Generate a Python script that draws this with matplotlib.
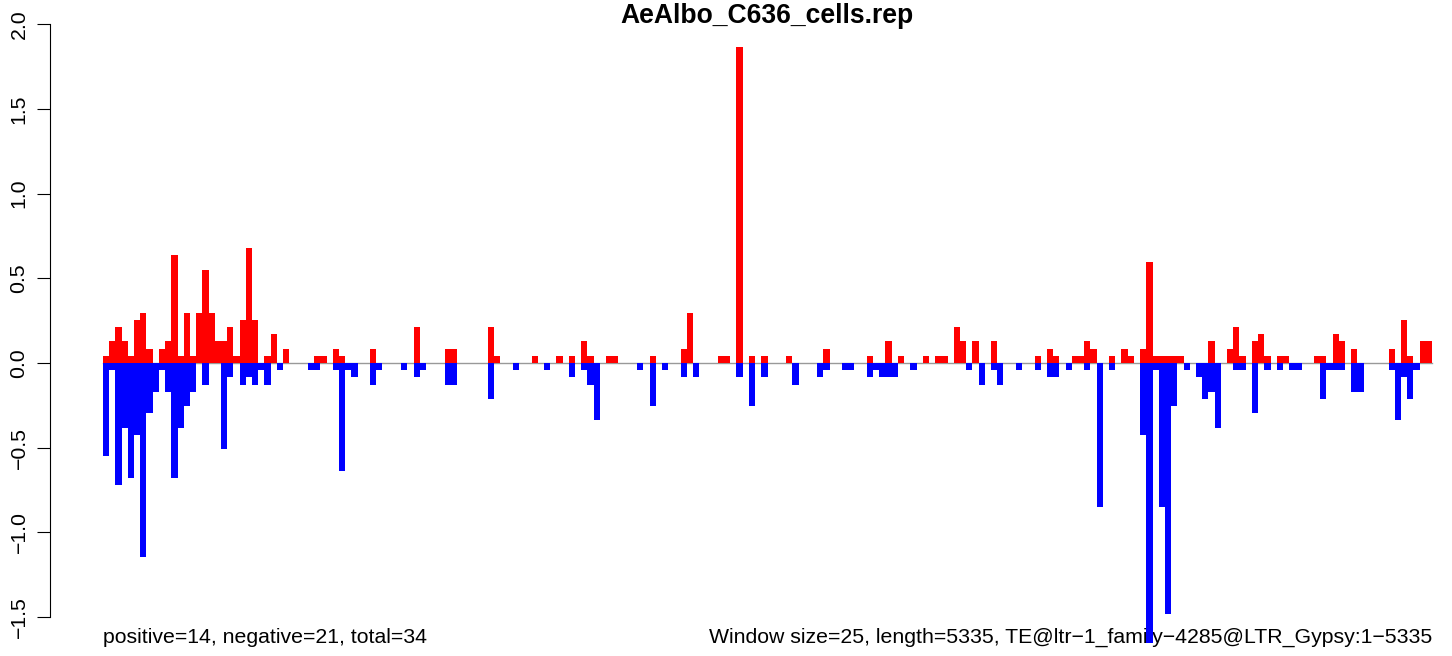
import matplotlib
matplotlib.use("Agg")
import matplotlib.pyplot as plt
import numpy as np

title = "AeAlbo_C636_cells.rep"
left_note = "positive=14, negative=21, total=34"
right_note = "Window size=25, length=5335, TE@ltr\u22121_family\u22124285@LTR_Gypsy:1\u22125335"

# one value per 25-bp window (214 windows)
positive = [
    0.042, 0.127, 0.212, 0.127, 0.042, 0.254, 0.297, 0.085, 0.0, 0.085,
    0.127, 0.636, 0.042, 0.297, 0.042, 0.297, 0.551, 0.297, 0.127, 0.127,
    0.212, 0.042, 0.254, 0.679, 0.254, 0.0, 0.042, 0.170, 0.0, 0.085,
    0.0, 0.0, 0.0, 0.0, 0.042, 0.042, 0.0, 0.085, 0.042, 0.0,
    0.0, 0.0, 0.0, 0.085, 0.0, 0.0, 0.0, 0.0, 0.0, 0.0,
    0.212, 0.0, 0.0, 0.0, 0.0, 0.085, 0.085, 0.0, 0.0, 0.0,
    0.0, 0.0, 0.212, 0.042, 0.0, 0.0, 0.0, 0.0, 0.0, 0.042,
    0.0, 0.0, 0.0, 0.042, 0.0, 0.042, 0.0, 0.127, 0.042, 0.0,
    0.0, 0.042, 0.042, 0.0, 0.0, 0.0, 0.0, 0.0, 0.042, 0.0,
    0.0, 0.0, 0.0, 0.085, 0.297, 0.0, 0.0, 0.0, 0.0, 0.042,
    0.042, 0.0, 1.866, 0.0, 0.042, 0.0, 0.042, 0.0, 0.0, 0.0,
    0.042, 0.0, 0.0, 0.0, 0.0, 0.0, 0.085, 0.0, 0.0, 0.0,
    0.0, 0.0, 0.0, 0.042, 0.0, 0.0, 0.127, 0.0, 0.042, 0.0,
    0.0, 0.0, 0.042, 0.0, 0.042, 0.042, 0.0, 0.212, 0.127, 0.0,
    0.127, 0.0, 0.0, 0.127, 0.0, 0.0, 0.0, 0.0, 0.0, 0.0,
    0.042, 0.0, 0.085, 0.042, 0.0, 0.0, 0.042, 0.042, 0.127, 0.085,
    0.0, 0.0, 0.042, 0.0, 0.085, 0.042, 0.0, 0.085, 0.594, 0.042,
    0.042, 0.042, 0.042, 0.042, 0.0, 0.0, 0.0, 0.0, 0.127, 0.0,
    0.0, 0.085, 0.212, 0.042, 0.0, 0.127, 0.170, 0.042, 0.0, 0.042,
    0.042, 0.0, 0.0, 0.0, 0.0, 0.042, 0.042, 0.0, 0.170, 0.127,
    0.0, 0.085, 0.0, 0.0, 0.0, 0.0, 0.0, 0.085, 0.0, 0.254,
    0.042, 0.0, 0.127, 0.127,
]

negative = [
    -0.551, -0.042, -0.721, -0.382, -0.679, -0.424, -1.145, -0.297, -0.170, -0.042,
    -0.170, -0.679, -0.382, -0.254, -0.170, 0.0, -0.127, 0.0, 0.0, -0.509,
    -0.085, 0.0, -0.127, -0.085, -0.127, -0.042, -0.127, 0.0, -0.042, 0.0,
    0.0, 0.0, 0.0, -0.042, -0.042, 0.0, 0.0, -0.042, -0.636, -0.042,
    -0.085, 0.0, 0.0, -0.127, -0.042, 0.0, 0.0, 0.0, -0.042, 0.0,
    -0.085, -0.042, 0.0, 0.0, 0.0, -0.127, -0.127, 0.0, 0.0, 0.0,
    0.0, 0.0, -0.212, 0.0, 0.0, 0.0, -0.042, 0.0, 0.0, 0.0,
    0.0, -0.042, 0.0, 0.0, 0.0, -0.085, 0.0, -0.042, -0.127, -0.339,
    0.0, 0.0, 0.0, 0.0, 0.0, 0.0, -0.042, 0.0, -0.254, 0.0,
    -0.042, 0.0, 0.0, -0.085, 0.0, -0.085, 0.0, 0.0, 0.0, 0.0,
    0.0, 0.0, -0.085, 0.0, -0.254, 0.0, -0.085, 0.0, 0.0, 0.0,
    0.0, -0.127, 0.0, 0.0, 0.0, -0.085, -0.042, 0.0, 0.0, -0.042,
    -0.042, 0.0, 0.0, -0.085, -0.042, -0.085, -0.085, -0.085, 0.0, 0.0,
    -0.042, 0.0, 0.0, 0.0, 0.0, 0.0, 0.0, 0.0, 0.0, -0.042,
    0.0, -0.127, 0.0, -0.042, -0.127, 0.0, 0.0, -0.042, 0.0, 0.0,
    -0.042, 0.0, -0.085, -0.085, 0.0, -0.042, 0.0, 0.0, -0.042, 0.0,
    -0.848, 0.0, -0.042, 0.0, 0.0, 0.0, 0.0, -0.424, -1.654, -0.042,
    -0.848, -1.484, -0.254, 0.0, -0.042, 0.0, -0.085, -0.212, -0.170, -0.382,
    0.0, 0.0, -0.042, -0.042, 0.0, -0.297, 0.0, -0.042, 0.0, -0.042,
    0.0, -0.042, -0.042, 0.0, 0.0, 0.0, -0.212, -0.042, -0.042, -0.042,
    0.0, -0.170, -0.170, 0.0, 0.0, 0.0, 0.0, -0.042, -0.339, -0.085,
    -0.212, -0.042, 0.0, 0.0,
]

yticks = [-1.5, -1.0, -0.5, 0.0, 0.5, 1.0, 1.5, 2.0]
ytick_labels = ["\u22121.5", "\u22121.0", "\u22120.5", "0.0", "0.5", "1.0", "1.5", "2.0"]

plt.rcParams['font.family'] = ['Liberation Sans', 'DejaVu Sans']
FS = 15.35

W, H = 1452, 656
fig = plt.figure(figsize=(W / 100, H / 100), dpi=100)

# pixel mapping
bar_w = 6.2103
x0_px = 103.0
ax_left_px, ax_right_px = 50.0, 1445.0
zero_px, per_unit = 363.0, 169.4
ylo, yhi = -1.72, 2.03
top_px = zero_px - per_unit * yhi
bot_px = zero_px - per_unit * ylo

ax = fig.add_axes([ax_left_px / W, (H - bot_px) / H,
                   (ax_right_px - ax_left_px) / W, (bot_px - top_px) / H])
ax.patch.set_facecolor('none')

n = len(positive)
x = np.arange(n)
ax.plot([0, n], [0, 0], color='#999999', lw=1.0, zorder=1)
ax.bar(x, positive, width=1.0, align='edge', color='#FF0000', linewidth=0, zorder=2)
ax.bar(x, negative, width=1.0, align='edge', color='#0000FF', linewidth=0, zorder=2)

ax.set_xlim((ax_left_px - x0_px) / bar_w, (ax_right_px - x0_px) / bar_w)
ax.set_ylim(ylo, yhi)

for s in ['top', 'right', 'bottom']:
    ax.spines[s].set_visible(False)
ax.spines['left'].set_bounds(-1.5, 2.0)
ax.spines['left'].set_linewidth(0.8)
ax.set_xticks([])
ax.set_yticks(yticks)
ax.set_yticklabels(ytick_labels, rotation=90, va='center', fontsize=FS)
ax.tick_params(axis='y', length=9.4, width=0.8, pad=6, direction='out')

fig.text(767 / W, (H - 23) / H, title, ha='center', va='baseline',
         fontsize=19.1, fontweight='bold', zorder=-1)
fig.text(103 / W, (H - 643) / H, left_note, ha='left', va='baseline',
         fontsize=FS, zorder=-1)
fig.text(1432 / W, (H - 643) / H, right_note, ha='right', va='baseline',
         fontsize=FS, zorder=-1)

fig.savefig("out.png", dpi=100)
